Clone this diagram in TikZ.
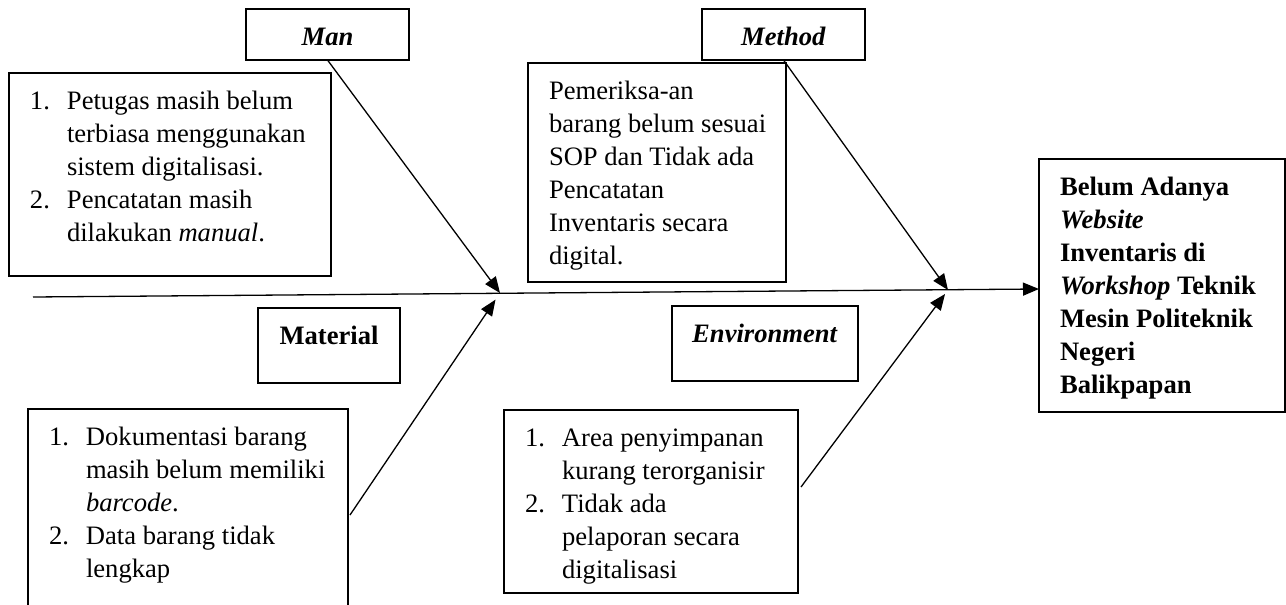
\documentclass[tikz,border=0pt]{standalone}
\usepackage{fontspec}
\setmainfont{Liberation Serif}
\usetikzlibrary{positioning,calc,arrows.meta}
\tikzstyle{lbl}= [draw, line width=0.8pt, inner sep=0pt, outer sep=0pt, anchor=north west, font=\fontsize{13.3}{16.5}\selectfont]
\tikzstyle{txt}= [lbl, fill=white]
\tikzstyle{arr}= [line width=0.65pt, -{Triangle[length=8pt,width=6.5pt]}]
\newcommand{\cellL}[3]{\begin{minipage}[t][#2][t]{#1}\vspace*{6.7pt}\leftskip=10.5pt\parindent=0pt\strut #3\par\end{minipage}}
\newcommand{\cellC}[3]{\begin{minipage}[t][#2][t]{#1}\vspace*{6.7pt}\centering\strut #3\par\end{minipage}}
\newcommand{\itm}[1]{\noindent\hangindent=18.5pt\makebox[18.5pt][l]{#1}}

\begin{document}
\begin{tikzpicture}[x=0.5pt,y=-0.5pt]
	\useasboundingbox (0,0) rectangle (1286,605);
	\node[lbl] at (246,9) (man) {\cellC{81.5pt}{25.5pt}{\textbf{\textit{Man}}}};
	\node[lbl] at (702,9) (method) {\cellC{81.5pt}{25.5pt}{\textbf{\textit{Method}}}};
	\node[lbl] at (258,308) (material) {\cellC{71pt}{37.5pt}{\textbf{Material}}};
	\node[lbl] at (672,306) (env) {\cellC{93pt}{37.5pt}{\textbf{\textit{Environment}}}};
	\node[lbl] at (1039,159) (effect) {\cellL{123pt}{126.5pt}{\bfseries Belum Adanya\\\textit{Website}\\Inventaris di\\\textit{Workshop} Teknik\\Mesin Politeknik\\Negeri\\Balikpapan}};
	\coordinate (tail) at (33,297);
	\coordinate (j1) at (500,293);
	\coordinate (j2) at (948,290);
	\draw[arr] (tail) -- ([yshift=-1.75pt]effect.west);
	\draw[arr] (man.south) -- (j1);
	\draw[arr] (method.south) -- (j2);
	\node[txt] at (9,73) (mantxt) {\cellL{161pt}{101.5pt}{\itm{1.}Petugas masih belum\\terbiasa menggunakan\\sistem digitalisasi.\par\itm{2.}Pencatatan masih\\dilakukan \textit{manual}.}};
	\node[txt] at (528,63) (methodtxt) {\cellL{129pt}{109.5pt}{Pemeriksa-an\\barang belum sesuai\\SOP dan Tidak ada\\Pencatatan\\Inventaris secara\\digital.}};
	\node[txt] at (28,409) (mattxt) {\cellL{160pt}{120pt}{\itm{1.}Dokumentasi barang\\masih belum memiliki\\\textit{barcode}.\par\itm{2.}Data barang tidak\\lengkap}};
	\node[txt] at (504,410) (envtxt) {\cellL{147pt}{91.5pt}{\itm{1.}Area penyimpanan\\kurang terorganisir\par\itm{2.}Tidak ada\\pelaporan secara\\digitalisasi}};
	\draw[arr, shorten >=4pt] ($(mattxt.north east)+(2,106)$) -- (j1);
	\draw[arr, shorten >=2.5pt] ($(envtxt.north east)+(3,77)$) -- (j2);
\end{tikzpicture}
\end{document}
